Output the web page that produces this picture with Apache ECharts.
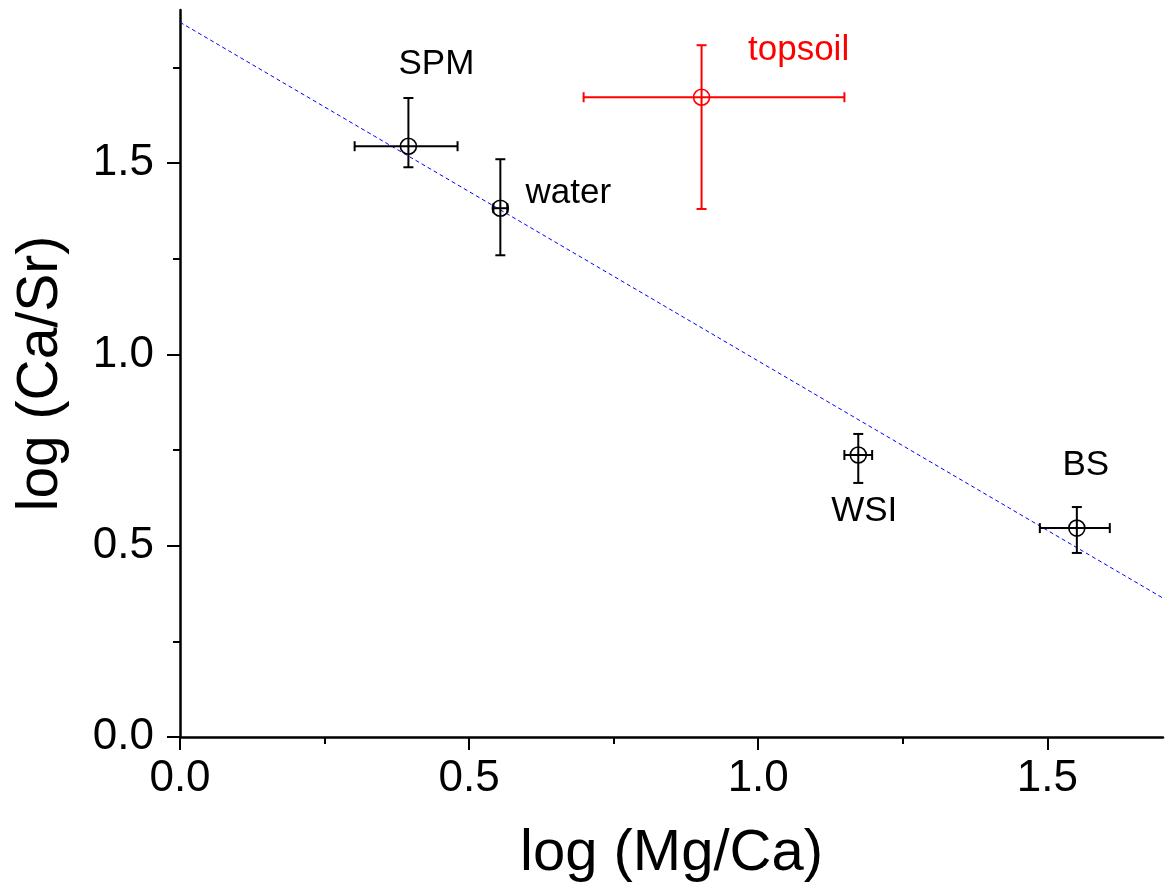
<!DOCTYPE html>
<html>
<head>
<meta charset="utf-8">
<script src="https://cdn.jsdelivr.net/npm/echarts@6/dist/echarts.min.js"></script>
<style>
html,body{margin:0;padding:0;background:#fff}
#main{width:1169px;height:888px}
</style>
</head>
<body>
<div id="main"></div>
<script>
// sample points: log(Mg/Ca) vs log(Ca/Sr), with error ranges
var names = ['SPM', 'water', 'topsoil', 'WSI', 'BS'];
var xVals = [0.395, 0.554, 0.902, 1.173, 1.551];
var yVals = [1.544, 1.382, 1.672, 0.737, 0.546];
var xLow  = [0.302, 0.542, 0.698, 1.149, 1.487];
var xHigh = [0.480, 0.566, 1.149, 1.197, 1.608];
var yLow  = [1.489, 1.259, 1.380, 0.664, 0.481];
var yHigh = [1.670, 1.510, 1.808, 0.792, 0.601];

// fitted line end points
var fitX = [0, 1.7];
var fitY = [1.868, 0.363];

var majorTicks = [0, 0.5, 1.0, 1.5];
var minorTicksX = [0.25, 0.75, 1.25];
var minorTicksY = [0.25, 0.75, 1.25, 1.75];

// styles
var pointColors = ['#000', '#000', '#ff0000', '#000', '#000'];
var labelOffsets = [[28, -82], [68, -15], [97, -47], [6, 56], [9, -63]];
var FONT = '"Liberation Sans", Arial, sans-serif';

var errData = [], ptData = [], fitData = [];
for (var i = 0; i < names.length; i++) {
	errData.push([xVals[i], yVals[i], xLow[i], xHigh[i], yLow[i], yHigh[i]]);
	ptData.push({
		value: [xVals[i], yVals[i]],
		name: names[i],
		itemStyle: {borderColor: pointColors[i]},
		label: {color: pointColors[i], offset: labelOffsets[i]}
	});
}
for (var j = 0; j < fitX.length; j++) fitData.push([fitX[j], fitY[j]]);

function renderErr(params, api) {
	var c = pointColors[params.dataIndex];
	var p = api.coord([api.value(0), api.value(1)]);
	var xl = api.coord([api.value(2), api.value(1)]);
	var xh = api.coord([api.value(3), api.value(1)]);
	var yl = api.coord([api.value(0), api.value(4)]);
	var yh = api.coord([api.value(0), api.value(5)]);
	var cap = 5;
	var st = {stroke: c, lineWidth: 2};
	function ln(x1, y1, x2, y2) {
		return {type: 'line', shape: {x1: x1, y1: y1, x2: x2, y2: y2}, style: st};
	}
	return {
		type: 'group',
		children: [
			ln(xl[0], p[1], xh[0], p[1]),
			ln(xl[0], p[1] - cap, xl[0], p[1] + cap),
			ln(xh[0], p[1] - cap, xh[0], p[1] + cap),
			ln(p[0], yl[1], p[0], yh[1]),
			ln(p[0] - cap, yl[1], p[0] + cap, yl[1]),
			ln(p[0] - cap, yh[1], p[0] + cap, yh[1])
		]
	};
}

var myChart = echarts.init(document.getElementById('main'));
var option = {
	backgroundColor: '#fff',
	animation: false,
	grid: {left: 180, right: 6, top: 10, bottom: 151, outerBoundsMode: 'none', containLabel: false},
	xAxis: [
		{
			type: 'value', min: 0, max: 1.7, position: 'bottom',
			name: 'log (Mg/Ca)', nameLocation: 'middle', nameGap: 88,
			nameTextStyle: {fontFamily: FONT, fontSize: 58, color: '#000'},
			axisLine: {show: true, onZero: false, lineStyle: {color: '#000', width: 2.5}},
			axisTick: {show: true, customValues: majorTicks, length: 13, lineStyle: {color: '#000', width: 2}},
			axisLabel: {customValues: majorTicks, formatter: function (v) { return v.toFixed(1); },
				fontFamily: FONT, fontSize: 44, color: '#000', margin: 20},
			splitLine: {show: false}
		},
		{
			type: 'value', min: 0, max: 1.7, position: 'bottom',
			axisLine: {show: false},
			axisTick: {show: true, customValues: minorTicksX, length: 7, lineStyle: {color: '#000', width: 2}},
			axisLabel: {show: false},
			splitLine: {show: false}
		}
	],
	yAxis: [
		{
			type: 'value', min: 0, max: 1.9, position: 'left',
			name: 'log (Ca/Sr)', nameLocation: 'middle', nameGap: 110,
			nameTextStyle: {fontFamily: FONT, fontSize: 57, color: '#000'},
			axisLine: {show: true, onZero: false, lineStyle: {color: '#000', width: 2.5}},
			axisTick: {show: true, customValues: majorTicks, length: 13, lineStyle: {color: '#000', width: 2}},
			axisLabel: {customValues: majorTicks, formatter: function (v) { return v.toFixed(1); },
				fontFamily: FONT, fontSize: 44, color: '#000', margin: 26},
			splitLine: {show: false}
		},
		{
			type: 'value', min: 0, max: 1.9, position: 'left',
			axisLine: {show: false},
			axisTick: {show: true, customValues: minorTicksY, length: 7, lineStyle: {color: '#000', width: 2}},
			axisLabel: {show: false},
			splitLine: {show: false}
		}
	],
	series: [
		{
			type: 'line',
			data: fitData,
			symbol: 'none',
			lineStyle: {color: '#0000ff', width: 1, type: [4, 3]},
			z: 1
		},
		{
			type: 'custom',
			renderItem: renderErr,
			data: errData,
			encode: {x: [0, 2, 3], y: [1, 4, 5]},
			z: 2
		},
		{
			type: 'scatter',
			data: ptData,
			symbol: 'circle',
			symbolSize: 16,
			itemStyle: {color: 'rgba(0,0,0,0)', borderWidth: 1.6, opacity: 1},
			label: {
				show: true, position: 'inside',
				formatter: '{b}',
				fontFamily: FONT, fontSize: 35
			},
			z: 3
		}
	]
};
myChart.setOption(option);
</script>
</body>
</html>
